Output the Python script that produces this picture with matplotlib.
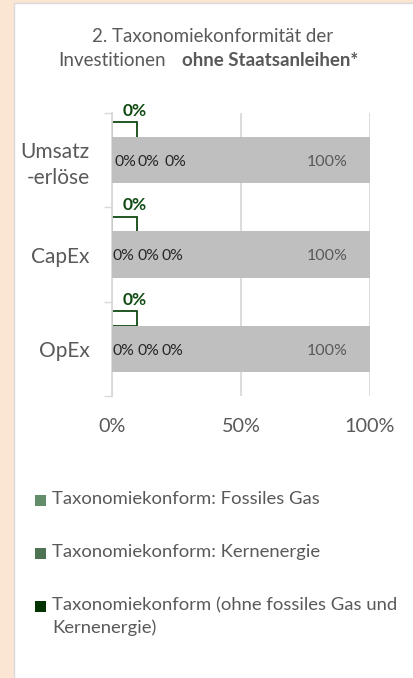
import numpy as np
import matplotlib.pyplot as plt
from matplotlib.patches import Rectangle

plt.rcParams['font.family'] = ['Lato', 'DejaVu Sans']

# data
categories = ['Umsatz\n-erlöse', 'CapEx', 'OpEx']
fossil_gas = [0.0, 0.0, 0.0]
nuclear = [0.0, 0.0, 0.0]
aligned_other = [0.0, 0.0, 0.0]
not_aligned = [1.0, 1.0, 1.0]
other_labels = ['0%', '0%', '0%']
rest_labels = ['100%', '100%', '100%']
x_ticks = [0, 0.5, 1.0]
x_ticklabels = ['0%', '50%', '100%']
legend_labels = ['Taxonomiekonform: Fossiles Gas',
                 'Taxonomiekonform: Kernenergie',
                 'Taxonomiekonform (ohne fossiles Gas und\nKernenergie)']

# small zero-value labels sit where Excel left them
small_label_x = [[0.054, 0.140, 0.246], [0.046, 0.143, 0.233], [0.046, 0.143, 0.233]]

PEACH = '#fae6d3'
GREY_TXT = '#595959'
DARK = '#0f4a12'
col_gas = '#638c69'
col_nuc = '#4e7352'
col_other = '#003300'

W, H = 414, 678
fig = plt.figure(figsize=(W / 100, H / 100), dpi=100, facecolor=PEACH)
fig.patches.append(Rectangle((14 / W, -0.01), 1, 1.01 - 3 / H, transform=fig.transFigure,
                             facecolor='white', edgecolor='#d9d9d9', lw=1.0, zorder=-1))

ax = fig.add_axes([112 / W, 1 - 396 / H, 258 / W, 283 / H], zorder=2)
ax.set_facecolor('none')
y = np.arange(len(categories))

# outlined box of the third series (0%), drawn above the grey bar
ax.barh(y - 0.32, [0.095] * 3, height=0.16, color='white', edgecolor=DARK, lw=1.3, zorder=2)
b_gas = ax.barh(y, fossil_gas, height=0.49, color=col_gas, zorder=3)
b_nuc = ax.barh(y, nuclear, left=fossil_gas, height=0.49, color=col_nuc, zorder=3)
b_oth = ax.barh(y, aligned_other, left=np.add(fossil_gas, nuclear), height=0.49,
                color=col_other, zorder=3)
ax.barh(y, not_aligned, left=np.add(np.add(fossil_gas, nuclear), aligned_other),
        height=0.49, color='#bfbfbf', zorder=3)

for i in range(len(categories)):
    ax.text(0.088, i - 0.52, other_labels[i], ha='center', va='center', fontsize=12.5,
            fontweight='bold', color=DARK, clip_on=False)
    for xl in small_label_x[i]:
        ax.text(xl, i + 0.02, '0%', ha='center', va='center', fontsize=11.3, color='#262626', zorder=4)
    ax.text(0.835, i + 0.02, rest_labels[i], ha='center', va='center', fontsize=11.5,
            color=GREY_TXT, zorder=4)

ax.set_xlim(0, 1)
ax.set_ylim(2.5, -0.5)
ax.set_xticks(x_ticks)
ax.set_xticklabels(x_ticklabels, fontsize=14.3, color=GREY_TXT)
ax.tick_params(axis='x', length=0, pad=16)
ax.set_yticks([-0.5, 0.5, 1.5, 2.5], minor=False)
ax.set_yticklabels([])
ax.tick_params(axis='y', length=6, color='#d9d9d9', width=1)
ax.set_yticks(y, minor=True)
ax.set_yticklabels(categories, minor=True, fontsize=15, color=GREY_TXT, linespacing=1.35)
ax.tick_params(axis='y', which='minor', length=0, pad=16)
ax.grid(axis='x', color='#d9d9d9', lw=1.3, zorder=1)
for s in ['top', 'right', 'bottom']:
    ax.spines[s].set_visible(False)
ax.spines['left'].set_color('#d9d9d9')
ax.spines['left'].set_linewidth(1.3)

fig.text(213 / W, 1 - 36 / H, '2. Taxonomiekonformität der', ha='center', va='center',
         fontsize=13.5, color=GREY_TXT)
fig.text(166 / W, 1 - 60 / H, 'Investitionen', ha='right', va='center',
         fontsize=13.5, color=GREY_TXT)
fig.text(182 / W, 1 - 60 / H, 'ohne Staatsanleihen*', ha='left', va='center',
         fontsize=13.5, color=GREY_TXT, fontweight='bold')

# legend, square lined up with the first line of each entry
legend_colors = [col_gas, col_nuc, col_other]
legend_rows = [500, 553, 606]
for lab, c, ry in zip(legend_labels, legend_colors, legend_rows):
    fig.patches.append(Rectangle((35 / W, 1 - (ry + 6) / H), 11 / W, 11 / H,
                                 transform=fig.transFigure, facecolor=c, lw=0))
    fig.text(52 / W, 1 - (ry - 9) / H, lab, ha='left', va='top', fontsize=13.3,
             color=GREY_TXT, linespacing=1.45)

fig.savefig('out.png', dpi=100, facecolor=PEACH)
